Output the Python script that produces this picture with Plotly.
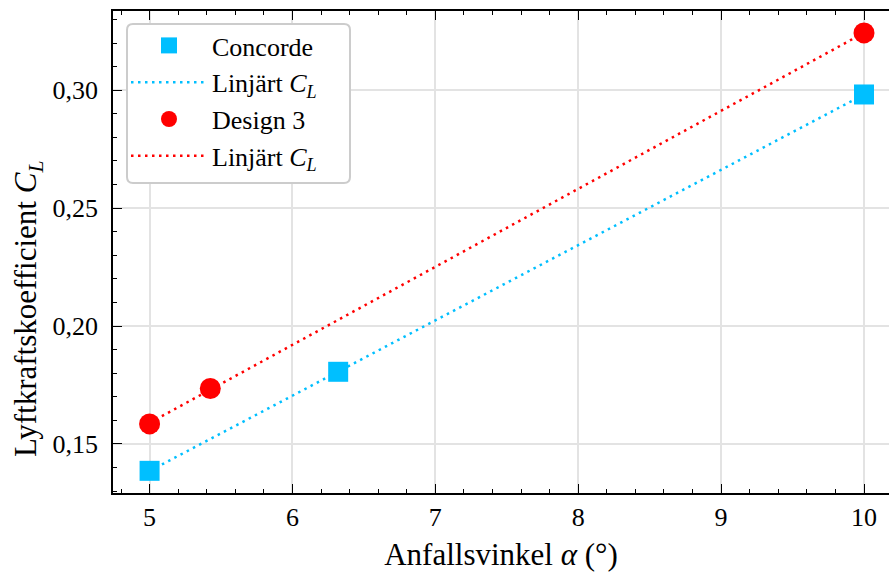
import numpy as np
import plotly.graph_objects as go

# Measured lift coefficients vs angle of attack
concorde_alpha = [5.0, 6.32, 10.0]
concorde_cl = [0.1386, 0.1806, 0.2982]
design3_alpha = [5.0, 5.425, 10.0]
design3_cl = [0.1585, 0.1735, 0.3243]

CYAN = "#00BFFF"
RED = "#FF0000"
FONT = "Liberation Serif"

def linear_fit(x, y):
    k, m = np.polyfit(x, y, 1)
    xs = np.array([min(x), max(x)])
    return xs, k * xs + m

fig = go.Figure()

cx, cy = linear_fit(concorde_alpha, concorde_cl)
dx, dy = linear_fit(design3_alpha, design3_cl)

fig.add_trace(go.Scatter(x=cx, y=cy, mode="lines", name="Linjärt <i>C</i><sub><i>L</i></sub>",
                         line=dict(color=CYAN, width=2.5, dash="2.5px,4.5px"),
                         legendrank=2, legendgroup="b"))
fig.add_trace(go.Scatter(x=dx, y=dy, mode="lines", name="Linjärt <i>C</i><sub><i>L</i></sub>",
                         line=dict(color=RED, width=2.5, dash="2.5px,4.5px"),
                         legendrank=4, legendgroup="d"))
fig.add_trace(go.Scatter(x=concorde_alpha, y=concorde_cl, mode="markers", name="Concorde",
                         marker=dict(symbol="square", size=20, color=CYAN),
                         legendrank=1, legendgroup="a"))
fig.add_trace(go.Scatter(x=design3_alpha, y=design3_cl, mode="markers", name="Design 3",
                         marker=dict(symbol="circle", size=21, color=RED),
                         legendrank=3, legendgroup="c"))

# Rounded legend frame (paper coordinates)
L, T, B = 113, 11, 79
W, H = 889 - L, 572 - T - B
def px(xp):
    return (xp - L) / W
def py(yp):
    return (572 - B - yp) / H
x0, x1, y0, y1, r = 127, 350, 24, 183, 6
path = (f"M {px(x0 + r)},{py(y0)} L {px(x1 - r)},{py(y0)} "
        f"Q {px(x1)},{py(y0)} {px(x1)},{py(y0 + r)} L {px(x1)},{py(y1 - r)} "
        f"Q {px(x1)},{py(y1)} {px(x1 - r)},{py(y1)} L {px(x0 + r)},{py(y1)} "
        f"Q {px(x0)},{py(y1)} {px(x0)},{py(y1 - r)} L {px(x0)},{py(y0 + r)} "
        f"Q {px(x0)},{py(y0)} {px(x0 + r)},{py(y0)} Z")
fig.add_shape(type="path", path=path, xref="paper", yref="paper", layer="above",
              fillcolor="white", line=dict(color="#cccccc", width=2))

# Y-axis label as a rotated annotation
fig.add_annotation(text="Lyftkraftskoefficient <i>C</i><sub><i>L</i></sub>",
                   xref="paper", yref="paper", x=px(28), y=py(309),
                   xanchor="center", yanchor="middle", textangle=-90, showarrow=False,
                   font=dict(family=FONT, size=31, color="black"))

axis_common = dict(
    showline=True, linecolor="black", linewidth=1.6,
    ticks="inside", ticklen=9, tickwidth=1.3, tickcolor="black",
    showgrid=True, gridcolor="#e3e3e3", gridwidth=1.5,
    zeroline=False,
    tickfont=dict(family=FONT, size=26, color="black"),
)

fig.update_xaxes(
    **axis_common,
    range=[4.744, 10.175], tick0=5, dtick=1, mirror="allticks",
    minor=dict(ticks="inside", ticklen=4.5, dtick=0.2, tick0=5, tickwidth=1.1,
               tickcolor="black", showgrid=False),
    ticklabelstandoff=0,
    title=dict(text="Anfallsvinkel <i>α</i> (°)", standoff=14,
               font=dict(family=FONT, size=31, color="black")),
)
fig.update_yaxes(
    **axis_common,
    range=[0.1292, 0.3336], tick0=0.15, dtick=0.05, tickformat=".2f", mirror=False,
    minor=dict(ticks="inside", ticklen=4.5, dtick=0.01, tick0=0.15, tickwidth=1.1,
               tickcolor="black", showgrid=False),
    ticklabelstandoff=8,
)

fig.update_layout(
    width=889, height=572,
    margin=dict(l=L, r=0, t=T, b=B, autoexpand=False),
    plot_bgcolor="white", paper_bgcolor="white",
    separators=",.",
    showlegend=True,
    legend=dict(x=px(126), y=py(22), xanchor="left", yanchor="top",
                bgcolor="rgba(0,0,0,0)", borderwidth=0,
                font=dict(family=FONT, size=26, color="black"),
                itemwidth=76, tracegroupgap=9, traceorder="normal"),
)

fig.write_html("out.html")
